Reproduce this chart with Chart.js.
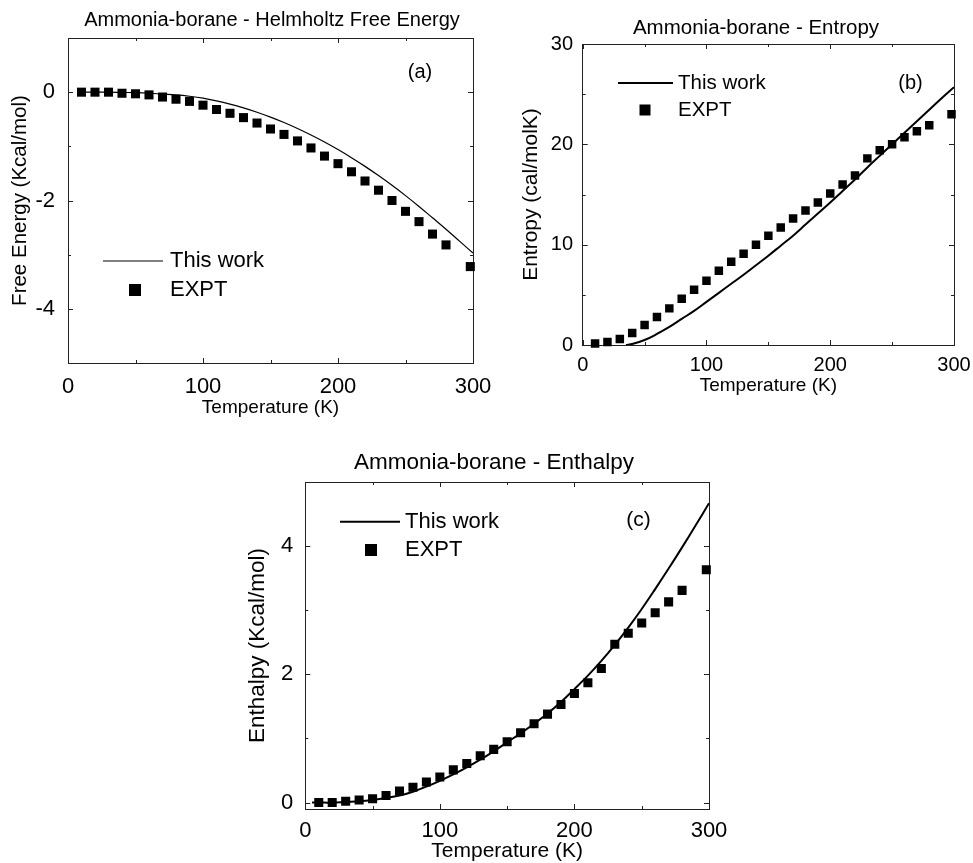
<!DOCTYPE html>
<html>
<head>
<meta charset="utf-8">
<script src="https://cdn.jsdelivr.net/npm/chart.js@4.4.1/dist/chart.umd.min.js"></script>
<style>
  html, body { margin: 0; padding: 0; background: #fff; overflow: hidden; }
  body { width: 973px; height: 863px; position: relative; }
  canvas { position: absolute; }
  #chart_a { left: 0; top: 0; width: 544px; height: 425px; }
  #chart_b { left: 510px; top: 0; width: 492px; height: 400px; }
  #chart_c { left: 240px; top: 430px; width: 508px; height: 433px; }
</style>
</head>
<body>
<canvas id="chart_a" width="544" height="425"></canvas>
<canvas id="chart_b" width="492" height="400"></canvas>
<canvas id="chart_c" width="508" height="433"></canvas>
<script>
// experimental temperatures (same for the three panels)
const exptTemps = [10, 20, 30, 40, 50, 60, 70, 80, 90, 100, 110, 120, 130, 140, 150,
  160, 170, 180, 190, 200, 210, 220, 230, 240, 250, 260, 270, 280, 298];

// (a) Helmholtz free energy, Kcal/mol
const freeExpt = [0, 0, 0, -0.02, -0.03, -0.05, -0.09, -0.13, -0.17, -0.24, -0.32, -0.39,
  -0.47, -0.57, -0.68, -0.78, -0.90, -1.03, -1.18, -1.32, -1.47, -1.64, -1.81, -2.00,
  -2.20, -2.39, -2.62, -2.82, -3.22];
const freeCalcTemps = [10, 20, 30, 40, 50, 60, 70, 80, 90, 100, 110, 120, 130, 140, 150,
  160, 170, 180, 190, 200, 210, 220, 230, 240, 250, 260, 270, 280, 290, 300];
const freeCalc = [0, 0, 0, -0.005, -0.01, -0.02, -0.035, -0.05, -0.075, -0.11, -0.16, -0.22,
  -0.29, -0.37, -0.46, -0.56, -0.67, -0.79, -0.92, -1.06, -1.21, -1.37, -1.54, -1.72,
  -1.91, -2.11, -2.32, -2.53, -2.75, -2.97];

// (b) entropy, cal/molK
const entExpt = [0.15, 0.3, 0.6, 1.2, 2.0, 2.8, 3.65, 4.6, 5.5, 6.4, 7.4, 8.3, 9.1, 10.0,
  10.9, 11.7, 12.6, 13.4, 14.2, 15.1, 16.0, 16.9, 18.6, 19.4, 20.0, 20.7, 21.3, 21.9, 23.0];
const entCalcTemps = [35, 40, 50, 60, 70, 80, 90, 100, 110, 120, 130, 140, 150, 160, 170,
  180, 190, 200, 210, 220, 230, 240, 250, 260, 270, 280, 290, 300];
const entCalc = [0, 0.1, 0.5, 1.1, 1.8, 2.6, 3.4, 4.3, 5.2, 6.1, 7.0, 7.95, 8.9, 9.9, 10.9,
  12.0, 13.1, 14.2, 15.35, 16.5, 17.7, 18.85, 20.0, 21.15, 22.3, 23.45, 24.6, 25.7];

// (c) enthalpy, Kcal/mol
const enthExpt = [0, 0, 0.02, 0.04, 0.06, 0.11, 0.18, 0.24, 0.32, 0.40, 0.51, 0.61, 0.73,
  0.83, 0.95, 1.09, 1.23, 1.38, 1.53, 1.70, 1.87, 2.09, 2.47, 2.64, 2.80, 2.96, 3.13,
  3.31, 3.63];
const enthCalcTemps = [5, 10, 20, 30, 40, 50, 60, 70, 80, 90, 100, 110, 120, 130, 140, 150,
  160, 170, 180, 190, 200, 210, 220, 230, 240, 250, 260, 270, 280, 290, 300];
const enthCalc = [0, 0, 0, 0.01, 0.02, 0.04, 0.07, 0.11, 0.17, 0.25, 0.34, 0.44, 0.55, 0.67,
  0.80, 0.94, 1.08, 1.23, 1.39, 1.57, 1.77, 1.98, 2.21, 2.46, 2.73, 3.02, 3.33, 3.65,
  3.98, 4.32, 4.67];

const xTicks = [0, 100, 200, 300];
const seriesNames = ["This work", "EXPT"];

Chart.defaults.font.family = "'Liberation Sans', Arial, sans-serif";
Chart.defaults.color = "#000";

const frameColor = "#222";

const pts = (xs, ys) => xs.map((x, i) => ({ x, y: ys[i] }));

// inward tick marks on all four sides, label "(a)" and the legend inside the plot
const panelDecor = {
  id: "panelDecor",
  afterDatasetsDraw(chart, args, o) {
    const { ctx, chartArea: a, scales } = chart;
    ctx.save();
    ctx.strokeStyle = frameColor;
    ctx.lineWidth = 1;
    ctx.beginPath();
    scales.x.ticks.forEach((t) => {
      const px = Math.round(scales.x.getPixelForValue(t.value)) + 0.5;
      const len = xTicks.includes(t.value) ? 5 : 3;
      ctx.moveTo(px, a.bottom);
      ctx.lineTo(px, a.bottom - len);
      ctx.moveTo(px, a.top);
      ctx.lineTo(px, a.top + len);
    });
    scales.y.ticks.forEach((t) => {
      const py = Math.round(scales.y.getPixelForValue(t.value)) + 0.5;
      const len = o.yMajor.includes(t.value) ? 5 : 3;
      ctx.moveTo(a.left, py);
      ctx.lineTo(a.left + len, py);
      ctx.moveTo(a.right, py);
      ctx.lineTo(a.right - len, py);
    });
    ctx.stroke();

    const lg = o.legend;
    ctx.fillStyle = "#000";
    ctx.strokeStyle = "#000";
    ctx.lineWidth = lg.lineWidth;
    ctx.beginPath();
    ctx.moveTo(lg.x1, lg.y1);
    ctx.lineTo(lg.x2, lg.y1);
    ctx.stroke();
    ctx.fillRect(lg.mx - lg.ms / 2, lg.y2 - lg.ms / 2, lg.ms, lg.ms);
    ctx.font = lg.size + "px " + Chart.defaults.font.family;
    ctx.textAlign = "left";
    ctx.textBaseline = "middle";
    ctx.fillText(chart.data.datasets[0].label, lg.tx, lg.y1);
    ctx.fillText(chart.data.datasets[1].label, lg.tx, lg.y2);

    ctx.font = o.tag.size + "px " + Chart.defaults.font.family;
    ctx.textAlign = "center";
    ctx.fillText(o.tag.text, o.tag.x, o.tag.y);
    ctx.restore();
  },
};

function makePanel(id, cfg) {
  const ctx = document.getElementById(id).getContext("2d");
  return new Chart(ctx, {
    type: "scatter",
    data: {
      datasets: [
        {
          label: seriesNames[0],
          data: pts(cfg.calcX, cfg.calcY),
          showLine: true,
          borderColor: "#000",
          borderWidth: cfg.lineWidth,
          pointRadius: 0,
          tension: 0.4,
        },
        {
          label: seriesNames[1],
          data: pts(exptTemps, cfg.exptY),
          showLine: false,
          pointStyle: "rect",
          pointRadius: cfg.markR,
          backgroundColor: "#000",
          borderWidth: 0,
          clip: 10,
        },
      ],
    },
    options: {
      responsive: false,
      animation: false,
      events: [],
      layout: { padding: 0 },
      plugins: {
        legend: { display: false },
        tooltip: { enabled: false },
        title: {
          display: true,
          text: cfg.title,
          color: "#000",
          font: { size: cfg.titleSize, weight: "normal", lineHeight: 1.2 },
          padding: { top: cfg.titleTop, bottom: 0 },
        },
        panelDecor: { yMajor: cfg.yMajor, legend: cfg.legend, tag: cfg.tag },
      },
      scales: {
        x: {
          type: "linear",
          position: "bottom",
          min: 0,
          max: 300,
          ticks: {
            stepSize: 50,
            autoSkip: false,
            maxRotation: 0,
            padding: cfg.xPad,
            font: { size: cfg.tickSize },
            callback: (v) => (xTicks.includes(v) ? v : ""),
          },
          grid: { display: false, drawTicks: false },
          border: { color: frameColor },
          title: {
            display: true,
            text: "Temperature (K)",
            font: { size: cfg.xTitleSize, lineHeight: 1 },
            padding: { top: 0, bottom: cfg.xTitlePad },
          },
          afterFit: (s) => { s.height = cfg.xH; },
        },
        y: {
          type: "linear",
          position: "left",
          min: cfg.yMin,
          max: cfg.yMax,
          ticks: {
            stepSize: cfg.yStep,
            autoSkip: false,
            includeBounds: false,
            padding: cfg.yPad,
            font: { size: cfg.tickSize },
            callback: (v) => (cfg.yMajor.includes(v) ? v : ""),
          },
          grid: { display: false, drawTicks: false },
          border: { color: frameColor },
          title: {
            display: true,
            text: cfg.yTitle,
            font: { size: cfg.yTitleSize, lineHeight: 1 },
            padding: { top: cfg.yTitlePad, bottom: 0 },
          },
          afterFit: (s) => { s.width = cfg.yW; },
        },
        x2: {
          type: "linear",
          position: "top",
          min: 0,
          max: 300,
          ticks: { display: false },
          grid: { display: false, drawTicks: false },
          border: { color: frameColor },
          afterFit: (s) => { s.height = cfg.topH; },
        },
        y2: {
          type: "linear",
          position: "right",
          min: cfg.yMin,
          max: cfg.yMax,
          ticks: { display: false },
          grid: { display: false, drawTicks: false },
          border: { color: frameColor },
          afterFit: (s) => { s.width = cfg.rightW; },
        },
      },
    },
    plugins: [panelDecor],
  });
}

makePanel("chart_a", {
  title: "Ammonia-borane - Helmholtz Free Energy",
  titleSize: 20, titleTop: 8.5, topH: 5.5,
  calcX: freeCalcTemps, calcY: freeCalc, exptY: freeExpt,
  lineWidth: 1.2, markR: 6.4,
  yMin: -5, yMax: 1, yStep: 1, yMajor: [0, -2, -4],
  yTitle: "Free Energy (Kcal/mol)", yTitleSize: 20.5, yTitlePad: 10.5,
  yW: 68, yPad: 13, rightW: 71,
  xH: 62, xPad: 10.5, tickSize: 22, xTitleSize: 19, xTitlePad: 7.5,
  legend: { x1: 103, x2: 163, y1: 261, y2: 290, mx: 135, ms: 12, tx: 170, size: 22, lineWidth: 1.2 },
  tag: { text: "(a)", x: 420, y: 72, size: 20 },
});

makePanel("chart_b", {
  title: "Ammonia-borane - Entropy",
  titleSize: 20.5, titleTop: 15.7, topH: 3.7,
  calcX: entCalcTemps, calcY: entCalc, exptY: entExpt,
  lineWidth: 2, markR: 6,
  yMin: 0, yMax: 30, yStep: 5, yMajor: [0, 10, 20, 30],
  yTitle: "Entropy (cal/molK)", yTitleSize: 21, yTitlePad: 11.2,
  yW: 72.7, yPad: 9.7, rightW: 48,
  xH: 55, xPad: 8, tickSize: 20, xTitleSize: 19, xTitlePad: 4.5,
  legend: { x1: 108, x2: 163, y1: 83, y2: 110, mx: 135, ms: 11, tx: 168, size: 20.5, lineWidth: 2 },
  tag: { text: "(b)", x: 400.5, y: 83, size: 20 },
});

makePanel("chart_c", {
  title: "Ammonia-borane - Enthalpy",
  titleSize: 22.5, titleTop: 19.5, topH: 5.5,
  calcX: enthCalcTemps, calcY: enthCalc, exptY: enthExpt,
  lineWidth: 2, markR: 6.4,
  yMin: -0.1, yMax: 5, yStep: 1, yMajor: [0, 2, 4],
  yTitle: "Enthalpy (Kcal/mol)", yTitleSize: 22.5, yTitlePad: 7,
  yW: 65.3, yPad: 12, rightW: 39,
  xH: 54, xPad: 8.5, tickSize: 22, xTitleSize: 21, xTitlePad: 0.8,
  legend: { x1: 100, x2: 160, y1: 91.7, y2: 120, mx: 131, ms: 12, tx: 165, size: 22, lineWidth: 2 },
  tag: { text: "(c)", x: 398.5, y: 90, size: 21 },
});
</script>
</body>
</html>
